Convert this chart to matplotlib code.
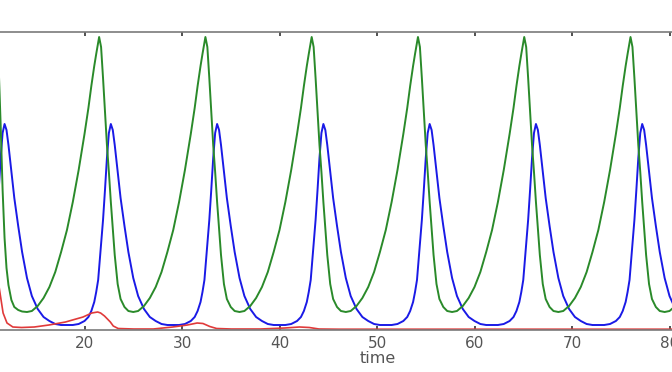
import matplotlib
matplotlib.use("Agg")
import matplotlib.pyplot as plt

# time samples (blue / green share the same grid), one row per oscillation
time = [
    10.95, 11.15, 11.35, 11.55, 11.75, 11.95, 12.15, 12.45, 12.75, 13.15, 13.55, 14.05, 14.55, 15.15, 15.75, 16.35, 16.95, 17.55, 18.15, 18.75, 19.35, 19.95, 20.35, 20.65, 20.95, 21.15, 21.35,
    21.45, 21.65, 21.85, 22.05, 22.25, 22.45, 22.65, 22.85, 23.05, 23.35, 23.65, 24.05, 24.45, 24.95, 25.45, 26.05, 26.65, 27.25, 27.85, 28.45, 29.05, 29.65, 30.25, 30.85, 31.25, 31.55, 31.85, 32.05, 32.25,
    32.35, 32.55, 32.75, 32.95, 33.15, 33.35, 33.55, 33.75, 33.95, 34.25, 34.55, 34.95, 35.35, 35.85, 36.35, 36.95, 37.55, 38.15, 38.75, 39.35, 39.95, 40.55, 41.15, 41.75, 42.15, 42.45, 42.75, 42.95, 43.15,
    43.25, 43.45, 43.65, 43.85, 44.05, 44.25, 44.45, 44.65, 44.85, 45.15, 45.45, 45.85, 46.25, 46.75, 47.25, 47.85, 48.45, 49.05, 49.65, 50.25, 50.85, 51.45, 52.05, 52.65, 53.05, 53.35, 53.65, 53.85, 54.05,
    54.15, 54.35, 54.55, 54.75, 54.95, 55.15, 55.35, 55.55, 55.75, 56.05, 56.35, 56.75, 57.15, 57.65, 58.15, 58.75, 59.35, 59.95, 60.55, 61.15, 61.75, 62.35, 62.95, 63.55, 63.95, 64.25, 64.55, 64.75, 64.95,
    65.05, 65.25, 65.45, 65.65, 65.85, 66.05, 66.25, 66.45, 66.65, 66.95, 67.25, 67.65, 68.05, 68.55, 69.05, 69.65, 70.25, 70.85, 71.45, 72.05, 72.65, 73.25, 73.85, 74.45, 74.85, 75.15, 75.45, 75.65, 75.85,
    75.95, 76.15, 76.35, 76.55, 76.75, 76.95, 77.15, 77.35, 77.55, 77.85, 78.15, 78.55, 78.95, 79.45, 79.95, 80.55,
]

green = [
    290, 262, 205, 140, 92, 62, 45, 30, 23, 20, 18.5, 18, 19, 24, 32, 43, 58, 78, 100, 128, 160, 196, 222, 244, 264, 276, 287,
    293, 283, 252, 218, 185, 158, 128, 102, 75, 46, 31, 23, 19, 18, 19, 24, 32, 43, 58, 78, 100, 128, 160, 196, 222, 244, 264, 276, 287,
    293, 283, 252, 218, 185, 158, 128, 102, 75, 46, 31, 23, 19, 18, 19, 24, 32, 43, 58, 78, 100, 128, 160, 196, 222, 244, 264, 276, 287,
    293, 283, 252, 218, 185, 158, 128, 102, 75, 46, 31, 23, 19, 18, 19, 24, 32, 43, 58, 78, 100, 128, 160, 196, 222, 244, 264, 276, 287,
    293, 283, 252, 218, 185, 158, 128, 102, 75, 46, 31, 23, 19, 18, 19, 24, 32, 43, 58, 78, 100, 128, 160, 196, 222, 244, 264, 276, 287,
    293, 283, 252, 218, 185, 158, 128, 102, 75, 46, 31, 23, 19, 18, 19, 24, 32, 43, 58, 78, 100, 128, 160, 196, 222, 244, 264, 276, 287,
    293, 283, 252, 218, 185, 158, 128, 102, 75, 46, 31, 23, 19, 18, 19, 24,
]

blue = [
    110, 140, 172, 197, 206, 200, 185, 158, 132, 104, 78, 52, 34, 21, 13, 9, 6, 5, 5, 5, 6, 9, 13, 19, 28, 38, 50,
    62, 85, 110, 140, 172, 197, 206, 200, 185, 158, 132, 104, 78, 52, 34, 21, 13, 9, 6, 5, 5, 5, 6, 9, 13, 19, 28, 38, 50,
    62, 85, 110, 140, 172, 197, 206, 200, 185, 158, 132, 104, 78, 52, 34, 21, 13, 9, 6, 5, 5, 5, 6, 9, 13, 19, 28, 38, 50,
    62, 85, 110, 140, 172, 197, 206, 200, 185, 158, 132, 104, 78, 52, 34, 21, 13, 9, 6, 5, 5, 5, 6, 9, 13, 19, 28, 38, 50,
    62, 85, 110, 140, 172, 197, 206, 200, 185, 158, 132, 104, 78, 52, 34, 21, 13, 9, 6, 5, 5, 5, 6, 9, 13, 19, 28, 38, 50,
    62, 85, 110, 140, 172, 197, 206, 200, 185, 158, 132, 104, 78, 52, 34, 21, 13, 9, 6, 5, 5, 5, 6, 9, 13, 19, 28, 38, 50,
    62, 85, 110, 140, 172, 197, 206, 200, 185, 158, 132, 104, 78, 52, 34, 21,
]

# red decays after the first cycles
red_t = [11.0, 11.3, 11.6, 12.0, 12.6, 13.5, 14.8, 16.3, 18.0, 19.8, 20.7, 21.3, 21.6, 22.0, 22.3, 22.6, 22.9, 23.4,
         25.0, 27.0, 29.0, 30.5, 31.5, 32.1, 32.8, 33.5, 35.0, 38.0, 40.5, 42.0, 43.0, 44.0, 46.0, 81.0]
red = [55, 36, 17, 7, 3, 2.5, 3, 5, 8, 13, 17, 18, 17, 14, 11, 8, 4, 1.5,
       1, 1, 3, 5, 7, 6.5, 3.5, 1.5, 1, 1, 2, 3, 2.5, 1, 0.8, 0.8]

xticks = [0, 10, 20, 30, 40, 50, 60, 70, 80, 90, 100]

fig = plt.figure(figsize=(6.72, 3.72), dpi=100)
# the picture is a crop of a wider axes running from 0 to 100
ax = fig.add_axes([-0.1637, 0.1129, 1.4509, 0.8011])

ax.plot(time, blue, color="#1a1ae6", lw=1.4)
ax.plot(time, green, color="#2a8a2a", lw=1.4)
ax.plot(red_t, red, color="#e03a3a", lw=1.2)

ax.set_xlim(0, 100)
ax.set_ylim(0, 298)
ax.set_xticks(xticks)
ax.set_yticks([])
ax.tick_params(axis="x", direction="in", length=3, width=1.2, color="#333333",
               top=True, labelsize=11, labelcolor="#555555", pad=4)
ax.set_xlabel("time", fontsize=11.5, color="#555555", labelpad=0)

for s in ["left", "right"]:
    ax.spines[s].set_visible(False)
for s in ["top", "bottom"]:
    ax.spines[s].set_color("#7a7a7a")
    ax.spines[s].set_linewidth(1.2)

fig.savefig("out.png", dpi=100)
